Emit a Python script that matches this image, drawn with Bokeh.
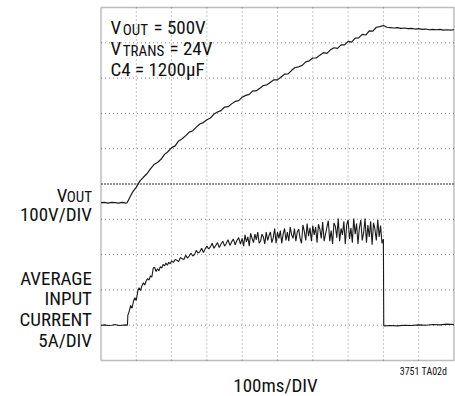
from bokeh.plotting import figure
from bokeh.models import Range1d, Label, BoxAnnotation
from bokeh.embed import file_html
from bokeh.resources import INLINE

# ---- graticule (10 x 10 divisions) ----
x_ticks = [0, 100, 200, 300, 400, 500, 600, 700, 800, 900, 1000]   # ms (100ms/DIV)
y_ticks = [0, 1, 2, 3, 4, 5, 6, 7, 8, 9, 10]                        # divisions
center_tick = [5]

# ---- VOUT trace (ms, V) ----
vout_t = [0, 10, 20, 30, 40, 50, 60, 70, 74,
          80, 90, 100, 110, 120, 130, 140, 150, 160, 170, 180, 190, 200,
          210, 220, 230, 240, 250, 260, 270, 280, 290, 300,
          310, 320, 330, 340, 350, 360, 370, 380, 390, 400,
          410, 420, 430, 440, 450, 460, 470, 480, 490, 500,
          510, 520, 530, 540, 550, 560, 570, 580, 590, 600,
          610, 620, 630, 640, 650, 660, 670, 680, 690, 700,
          710, 720, 730, 740, 750, 760, 770, 780, 790, 800,
          810, 820, 830, 840, 850, 860, 870, 880, 890, 900,
          910, 920, 930, 940, 950, 960, 970, 980, 990, 1000]
vout_v = [0, 1, -1, 1, 0, -1, 1, -1, 0,
          12, 31, 44, 61, 72, 82, 96, 108, 114, 123, 137, 145, 156,
          161, 175, 181, 190, 200, 204, 214, 223, 227, 235,
          240, 251, 257, 261, 271, 272, 280, 287, 289, 299,
          304, 307, 317, 317, 324, 332, 334, 341, 348, 348,
          356, 364, 365, 375, 383, 385, 389, 399, 402, 410,
          410, 418, 425, 423, 433, 439, 437, 447, 447, 457,
          455, 466, 467, 477, 475, 487, 486, 497, 499, 502,
          497, 496, 495, 496, 494, 495, 493, 494, 492, 493,
          491, 492, 490, 491, 490, 491, 489, 490, 489, 490]

# ---- average input current trace (ms, A) ----
i_t = [0, 10, 20, 30, 40, 50, 60, 70, 75, 76,
       80, 84, 88, 92, 96, 100, 104, 108, 112, 116, 120, 124, 128, 132, 136, 140,
       144, 148, 152, 156, 160, 164, 168, 172, 176, 180, 184, 188, 192, 196, 200,
       205, 210, 215, 220, 225, 230, 235, 240, 245, 250, 255, 260, 265, 270, 275,
       280, 285, 290, 295, 300, 305, 310, 315, 320, 325, 330, 335, 340, 345, 350,
       355, 360, 365, 370, 375, 380, 385, 390, 395, 400,
       404, 408, 412, 416, 420, 424, 428, 432, 436, 440,
       444, 448, 452, 456, 460, 464, 468, 472, 476, 480,
       484, 488, 492, 496, 500, 504, 508, 512, 516, 520,
       524, 528, 532, 536, 540, 544, 548, 552, 556, 560,
       564, 568, 572, 576, 580, 584, 588, 592, 596, 600,
       604, 608, 612, 616, 620, 624, 628, 632, 636, 640,
       644, 648, 652, 656, 660, 664, 668, 672, 676, 680,
       684, 688, 692, 696, 700, 704, 708, 712, 716, 720,
       724, 728, 732, 736, 740, 744, 748, 752, 756, 760,
       764, 768, 772, 776, 780, 784, 788, 792, 796, 800,
       801, 820, 840, 860, 880, 900, 920, 940, 960, 980, 1000]
i_a = [0.0, 0.05, -0.05, 0.0, 0.1, -0.05, 0.0, 0.05, 0.0, 1.4,
       2.0, 2.8, 2.4, 3.4, 3.9, 3.5, 4.8, 5.3, 4.9, 5.6, 6.0, 5.7, 6.3, 6.6, 6.4, 7.0,
       6.8, 8.1, 8.2, 7.6, 8.0, 7.7, 8.3, 8.1, 8.6, 8.4, 8.8, 8.5, 8.9, 8.7, 9.1,
       8.9, 9.3, 9.2, 9.0, 9.6, 9.4, 9.3, 9.9, 9.5, 9.8, 10.2, 9.8, 10.0, 10.6, 10.2,
       10.4, 10.9, 10.3, 10.8, 11.2, 10.8, 11.1, 11.6, 10.9, 11.3, 11.7, 11.0, 11.5, 11.9, 11.2,
       11.6, 12.1, 11.3, 11.8, 12.2, 11.4, 12.0, 12.4, 11.5, 12.3,
       11.2, 12.8, 11.8, 12.5, 11.2, 13.0, 12.3, 11.7, 12.9, 12.1,
       13.2, 11.6, 11.9, 12.9, 12.5, 11.5, 13.2, 12.0, 12.7, 13.2,
       11.7, 12.4, 13.7, 11.6, 13.2, 12.3, 13.4, 11.6, 12.9, 13.7,
       12.0, 13.2, 11.9, 13.9, 12.8, 12.3, 13.7, 11.9, 13.2, 13.6,
       12.3, 11.6, 14.2, 13.3, 12.0, 14.4, 12.6, 13.8, 11.9, 14.1,
       12.8, 13.9, 11.7, 14.3, 13.6, 12.3, 14.6, 11.9, 12.9, 13.9,
       14.8, 11.9, 13.4, 11.5, 14.5, 14.0, 12.4, 15.1, 11.9, 13.7,
       12.8, 14.7, 11.5, 14.2, 14.9, 12.2, 13.8, 11.7, 15.1, 12.9,
       14.4, 11.5, 13.8, 14.9, 12.0, 13.1, 15.1, 11.7, 14.2, 12.5,
       14.7, 11.4, 14.5, 13.6, 12.0, 14.9, 12.5, 14.1, 11.6, 12.2,
       -0.1, -0.05, -0.1, 0.0, -0.05, 0.05, 0.0, 0.1, 0.05, 0.15, 0.1]

assert len(vout_t) == len(vout_v)
assert len(i_t) == len(i_a)

# scope channel settings
VOUT_V_PER_DIV = 100.0
VOUT_ZERO_DIV = 4.47
I_A_PER_DIV = 5.0
I_ZERO_DIV = 1.0

# layout (pixels)
W, H = 455, 396
BOX_L, BOX_R, BOX_T, BOX_B = 100.5, 453.5, 7.0, 360.0
TEXT_SHIFT = 6.0   # renderer places label baselines slightly low

FONT = "Roboto Condensed"
INK = "#111111"

xs = (x_ticks[-1] - x_ticks[0]) / (BOX_R - BOX_L)
ys = (y_ticks[-1] - y_ticks[0]) / (BOX_B - BOX_T)
x_range = Range1d(x_ticks[0] - BOX_L * xs, x_ticks[-1] + (W - BOX_R) * xs)
y_range = Range1d(y_ticks[0] - (H - BOX_B) * ys, y_ticks[-1] + BOX_T * ys)

p = figure(width=W, height=H, x_range=x_range, y_range=y_range,
           output_backend="svg", toolbar_location=None,
           x_axis_location=None, y_axis_location=None,
           min_border_left=0, min_border_right=0,
           min_border_top=0, min_border_bottom=0)
p.background_fill_color = "white"
p.border_fill_color = "white"
p.outline_line_color = None
p.grid.visible = False

y0, y1 = y_ticks[0], y_ticks[-1]
x0, x1 = x_ticks[0], x_ticks[-1]
inner_x = x_ticks[1:-1]
inner_y = [v for v in y_ticks[1:-1] if v not in center_tick]
p.segment(x0=inner_x, x1=inner_x, y0=[y0] * len(inner_x), y1=[y1] * len(inner_x),
          line_color="#8a8a8a", line_dash="1 3", line_width=1)
p.segment(x0=[x0] * len(inner_y), x1=[x1] * len(inner_y), y0=inner_y, y1=inner_y,
          line_color="#8a8a8a", line_dash="1 3", line_width=1)
p.segment(x0=[x0], x1=[x1], y0=center_tick, y1=center_tick,
          line_color="#333333", line_dash="2 1", line_width=1)

p.line(x=vout_t, y=[VOUT_ZERO_DIV + v / VOUT_V_PER_DIV for v in vout_v],
       line_color="#1a1a1a", line_width=1.2)
p.line(x=i_t, y=[I_ZERO_DIV + a / I_A_PER_DIV for a in i_a],
       line_color="#1a1a1a", line_width=1.1)

p.add_layout(BoxAnnotation(left=x0, right=x1, bottom=y0, top=y1,
                           fill_alpha=0, line_color="#222222", line_width=1.5))


def lab(text, px, py, size, align="left", font=FONT):
    # px, py: page pixels (py = baseline, from top)
    p.add_layout(Label(x=px, y=H - py + TEXT_SHIFT, x_units="screen", y_units="screen",
                       text=text, text_font=font, text_font_size=f"{size}px",
                       text_color=INK, text_align=align, text_baseline="alphabetic"))


# in-plot annotation
lab("V", 110.0, 32.7, 19)
lab("OUT", 122.3, 35.0, 15)
lab("= 500V", 153.0, 32.7, 19)
lab("V", 110.0, 54.0, 19)
lab("TRANS", 122.3, 56.3, 15)
lab("= 24V", 169.0, 54.0, 19)
lab("C4 = 1200µF", 110.0, 75.3, 19)

# left channel labels
lab("V", 67, 201, 19, "right")
lab("OUT", 91.5, 202.5, 15, "right")
lab("100V/DIV", 91.5, 220, 19, "right")
lab("AVERAGE", 91.5, 284, 19, "right")
lab("INPUT", 91.5, 304, 19, "right")
lab("CURRENT", 91.5, 324.5, 19, "right")
lab("5A/DIV", 91.5, 346, 19, "right")

# bottom
lab("100ms/DIV", 275, 391, 19, "center")
lab("3751 TA02d", 446.7, 377, 10, "right")

open("out.html", "w").write(file_html(p, INLINE))
